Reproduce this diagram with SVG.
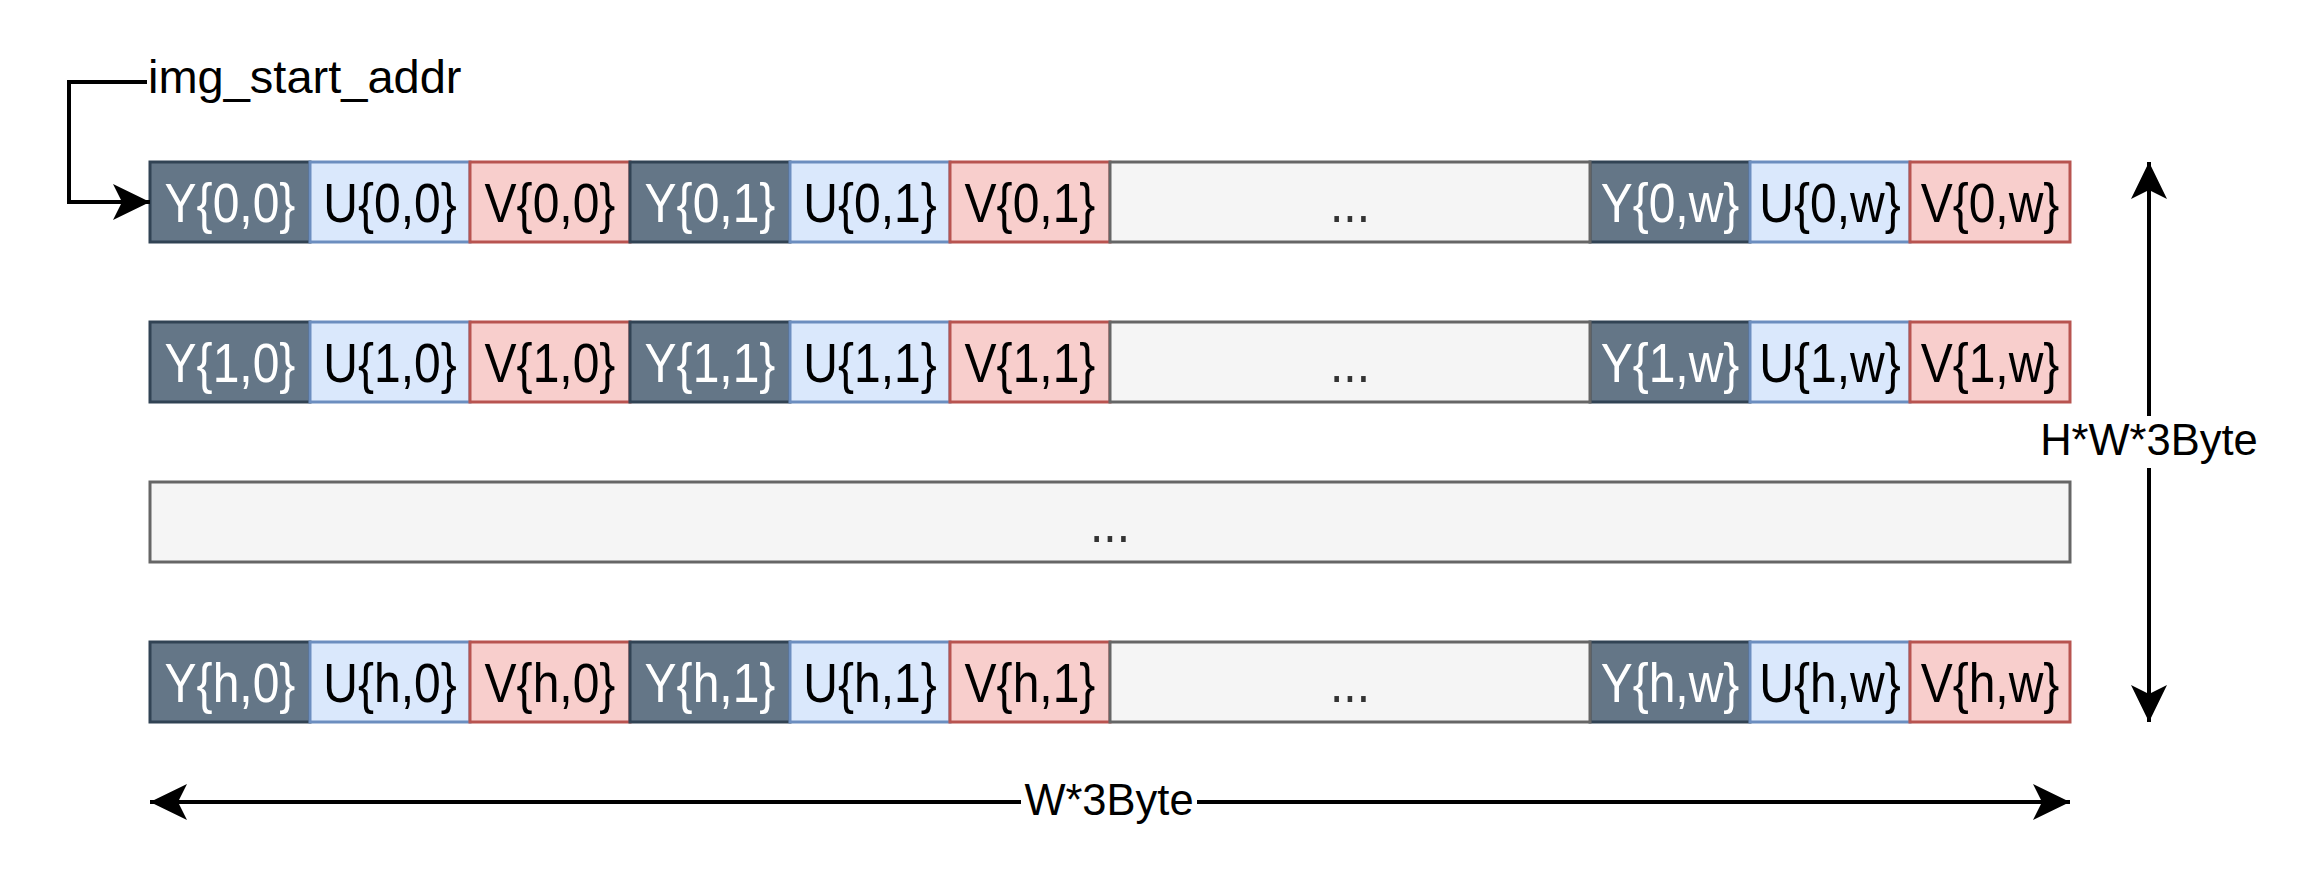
<svg xmlns="http://www.w3.org/2000/svg" width="2300" height="880" viewBox="0 0 2300 880">
<style>
text{font-family:"Liberation Sans",Arial,sans-serif;font-size:48px;text-anchor:middle}
.y rect{fill:#647687;stroke:#314354;stroke-width:3}
.y text{fill:#ffffff}
.u rect{fill:#dae8fc;stroke:#6c8ebf;stroke-width:3}
.u text{fill:#000000}
.v rect{fill:#f8cecc;stroke:#b85450;stroke-width:3}
.v text{fill:#000000}
.e rect{fill:#f5f5f5;stroke:#666666;stroke-width:3}
.e text{fill:#333333}
.ln{fill:none;stroke:#000;stroke-width:4}
.lbl{font-size:43.5px;fill:#000}
</style>
<defs>
<marker id="ah" viewBox="0 0 37 36" refX="37" refY="18" markerWidth="37" markerHeight="36" markerUnits="userSpaceOnUse" orient="auto-start-reverse">
<path d="M37,18 L0,0 L9,18 L0,36 Z" fill="#000"/>
</marker>
</defs>
<rect width="2300" height="880" fill="#fff"/>

<!-- Row 0 -->
<g id="Y00" class="y"><rect x="150" y="162" width="160" height="80"/><text transform="translate(230,222) scale(1,1.17)">Y{0,0}</text></g>
<g id="U00" class="u"><rect x="310" y="162" width="160" height="80"/><text transform="translate(390,222) scale(1,1.17)">U{0,0}</text></g>
<g id="V00" class="v"><rect x="470" y="162" width="160" height="80"/><text transform="translate(550,222) scale(1,1.17)">V{0,0}</text></g>
<g id="Y01" class="y"><rect x="630" y="162" width="160" height="80"/><text transform="translate(710,222) scale(1,1.17)">Y{0,1}</text></g>
<g id="U01" class="u"><rect x="790" y="162" width="160" height="80"/><text transform="translate(870,222) scale(1,1.17)">U{0,1}</text></g>
<g id="V01" class="v"><rect x="950" y="162" width="160" height="80"/><text transform="translate(1030,222) scale(1,1.17)">V{0,1}</text></g>
<g id="Y0w" class="y"><rect x="1590" y="162" width="160" height="80"/><text transform="translate(1670,222) scale(1,1.17)">Y{0,w}</text></g>
<g id="U0w" class="u"><rect x="1750" y="162" width="160" height="80"/><text transform="translate(1830,222) scale(1,1.17)">U{0,w}</text></g>
<g id="V0w" class="v"><rect x="1910" y="162" width="160" height="80"/><text transform="translate(1990,222) scale(1,1.17)">V{0,w}</text></g>
<g id="E0" class="e"><rect x="1110" y="162" width="480" height="80"/><text transform="translate(1350,222) scale(1,1.17)">...</text></g>

<!-- Row 1 -->
<g id="Y10" class="y"><rect x="150" y="322" width="160" height="80"/><text transform="translate(230,382) scale(1,1.17)">Y{1,0}</text></g>
<g id="U10" class="u"><rect x="310" y="322" width="160" height="80"/><text transform="translate(390,382) scale(1,1.17)">U{1,0}</text></g>
<g id="V10" class="v"><rect x="470" y="322" width="160" height="80"/><text transform="translate(550,382) scale(1,1.17)">V{1,0}</text></g>
<g id="Y11" class="y"><rect x="630" y="322" width="160" height="80"/><text transform="translate(710,382) scale(1,1.17)">Y{1,1}</text></g>
<g id="U11" class="u"><rect x="790" y="322" width="160" height="80"/><text transform="translate(870,382) scale(1,1.17)">U{1,1}</text></g>
<g id="V11" class="v"><rect x="950" y="322" width="160" height="80"/><text transform="translate(1030,382) scale(1,1.17)">V{1,1}</text></g>
<g id="Y1w" class="y"><rect x="1590" y="322" width="160" height="80"/><text transform="translate(1670,382) scale(1,1.17)">Y{1,w}</text></g>
<g id="U1w" class="u"><rect x="1750" y="322" width="160" height="80"/><text transform="translate(1830,382) scale(1,1.17)">U{1,w}</text></g>
<g id="V1w" class="v"><rect x="1910" y="322" width="160" height="80"/><text transform="translate(1990,382) scale(1,1.17)">V{1,w}</text></g>
<g id="E1" class="e"><rect x="1110" y="322" width="480" height="80"/><text transform="translate(1350,382) scale(1,1.17)">...</text></g>

<!-- Middle rows -->
<g id="Emid" class="e"><rect x="150" y="482" width="1920" height="80"/><text transform="translate(1110,542) scale(1,1.17)">...</text></g>

<!-- Row h -->
<g id="Yh0" class="y"><rect x="150" y="642" width="160" height="80"/><text transform="translate(230,702) scale(1,1.17)">Y{h,0}</text></g>
<g id="Uh0" class="u"><rect x="310" y="642" width="160" height="80"/><text transform="translate(390,702) scale(1,1.17)">U{h,0}</text></g>
<g id="Vh0" class="v"><rect x="470" y="642" width="160" height="80"/><text transform="translate(550,702) scale(1,1.17)">V{h,0}</text></g>
<g id="Yh1" class="y"><rect x="630" y="642" width="160" height="80"/><text transform="translate(710,702) scale(1,1.17)">Y{h,1}</text></g>
<g id="Uh1" class="u"><rect x="790" y="642" width="160" height="80"/><text transform="translate(870,702) scale(1,1.17)">U{h,1}</text></g>
<g id="Vh1" class="v"><rect x="950" y="642" width="160" height="80"/><text transform="translate(1030,702) scale(1,1.17)">V{h,1}</text></g>
<g id="Yhw" class="y"><rect x="1590" y="642" width="160" height="80"/><text transform="translate(1670,702) scale(1,1.17)">Y{h,w}</text></g>
<g id="Uhw" class="u"><rect x="1750" y="642" width="160" height="80"/><text transform="translate(1830,702) scale(1,1.17)">U{h,w}</text></g>
<g id="Vhw" class="v"><rect x="1910" y="642" width="160" height="80"/><text transform="translate(1990,702) scale(1,1.17)">V{h,w}</text></g>
<g id="Eh" class="e"><rect x="1110" y="642" width="480" height="80"/><text transform="translate(1350,702) scale(1,1.17)">...</text></g>

<!-- start address label -->
<g id="startLabel"><text x="148" y="93" style="text-anchor:start;fill:#000;font-size:47px">img_start_addr</text></g>

<!-- Connectors -->
<g id="connectors">
<polyline class="ln" points="147,82 69,82 69,202 150,202" marker-end="url(#ah)"/>
<line class="ln" x1="2149" y1="722" x2="2149" y2="162" marker-start="url(#ah)" marker-end="url(#ah)"/>
<rect x="2040" y="416" width="220" height="52" fill="#fff"/>
<text class="lbl" x="2149" y="455">H*W*3Byte</text>
<line class="ln" x1="2070" y1="802" x2="150" y2="802" marker-start="url(#ah)" marker-end="url(#ah)"/>
<rect x="1021" y="780" width="176" height="44" fill="#fff"/>
<text class="lbl" x="1109" y="815">W*3Byte</text>
</g>
</svg>
